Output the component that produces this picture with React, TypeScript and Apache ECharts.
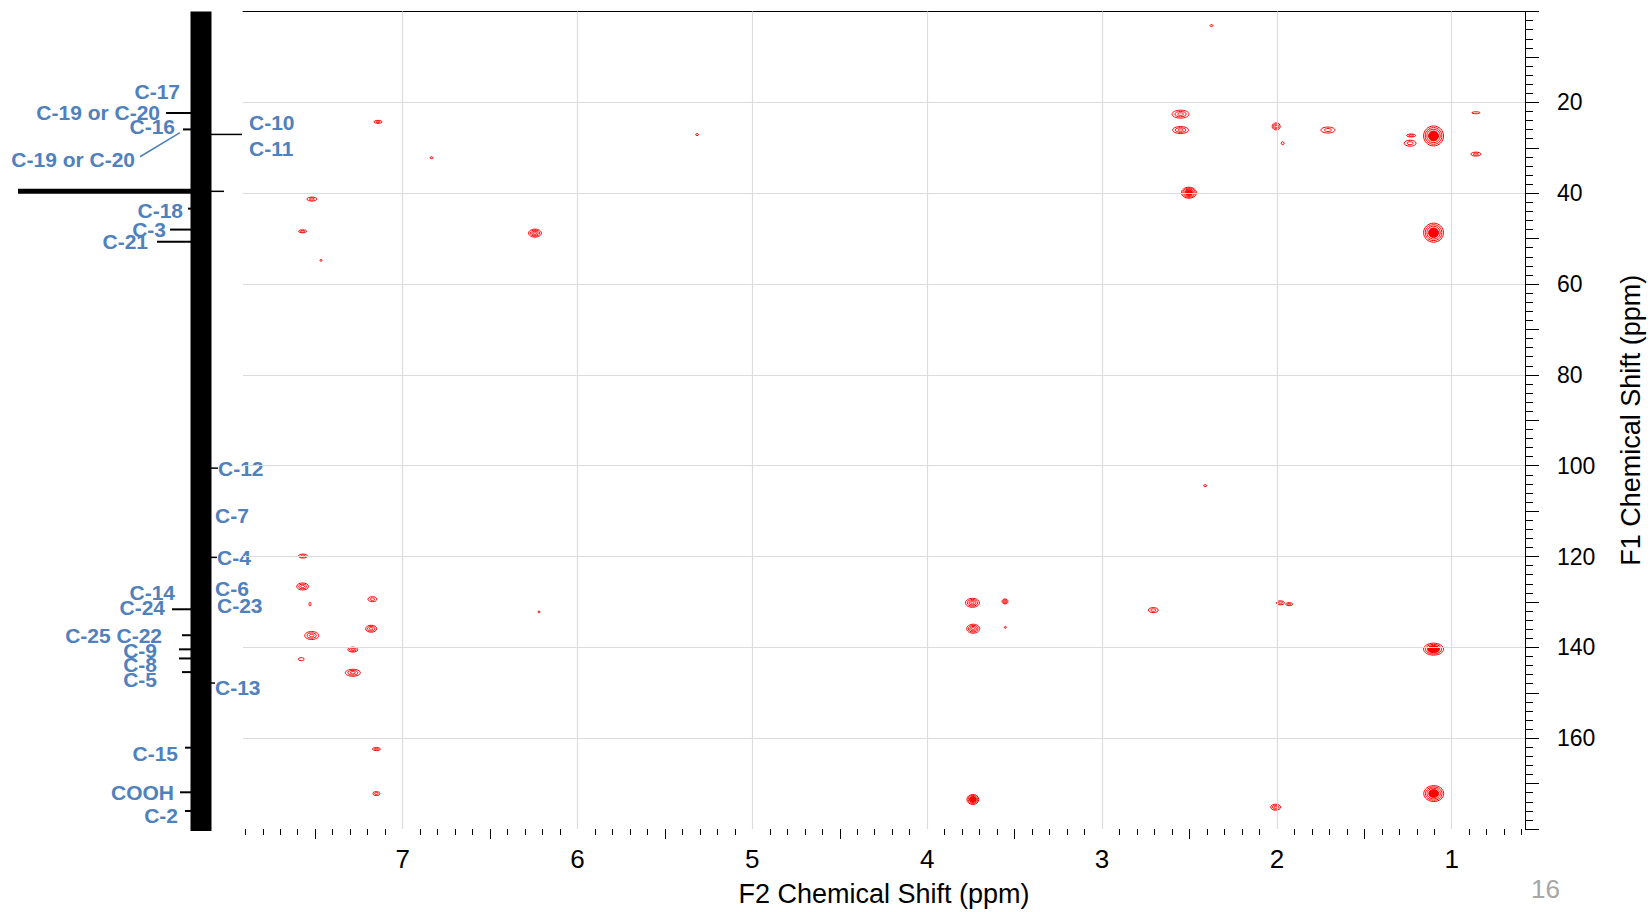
import React, { useEffect, useRef } from "react";
import * as echarts from "echarts";

// ---------- axes ----------
const F2_LABELS = [1, 2, 3, 4, 5, 6, 7];
const F1_LABELS = [20, 40, 60, 80, 100, 120, 140, 160];
const F2_MIN = 0.581;
const F2_MAX = 7.913;
const F1_MIN = 0;
const F1_MAX = 180;

// ---------- HMBC cross peaks ----------
const PEAK_F2 = [
  2.374, 2.551, 2.551, 2.004, 1.967, 1.708, 1.232, 1.238, 1.104, 0.862, 0.862,
  2.503, 1.104, 7.141, 5.316, 6.835, 7.519, 7.572, 6.243, 7.467, 2.41, 7.57,
  7.572, 7.53, 7.173, 6.22, 7.18, 7.52, 7.285, 7.58, 7.285, 7.15, 7.15, 3.741,
  3.555, 3.737, 3.553, 2.707, 1.98, 1.93, 1.104, 3.739, 2.007, 1.103,
];
const PEAK_F1 = [
  3.1, 22.6, 26.1, 25.3, 29.0, 26.1, 27.3, 29.0, 27.4, 22.3, 31.4,
  39.9, 48.7, 24.3, 27.1, 32.2, 41.3, 48.4, 48.8, 54.8, 104.4, 119.9,
  126.6, 130.5, 129.4, 132.2, 135.9, 137.4, 140.5, 142.6, 145.6, 162.4, 172.2, 130.2,
  129.9, 135.9, 135.6, 131.8, 130.2, 130.5, 140.4, 173.5, 175.2, 172.2,
];
const PEAK_W_F2 = [
  0.017, 0.097, 0.091, 0.046, 0.017, 0.08, 0.051, 0.068, 0.114, 0.046, 0.057,
  0.086, 0.114, 0.046, 0.017, 0.017, 0.057, 0.046, 0.074, 0.011, 0.017, 0.051,
  0.068, 0.011, 0.051, 0.011, 0.063, 0.08, 0.057, 0.034, 0.086, 0.046, 0.04, 0.08,
  0.034, 0.074, 0.011, 0.057, 0.046, 0.04, 0.114, 0.068, 0.057, 0.114,
];
const PEAK_W_F1 = [
  0.44, 1.76, 1.54, 1.54, 0.66, 1.32, 0.66, 1.32, 4.4, 0.44, 0.88,
  2.42, 4.2, 0.66, 0.44, 0.44, 0.88, 0.66, 1.76, 0.44, 0.44, 0.88,
  1.54, 0.88, 1.1, 0.44, 1.54, 1.76, 1.1, 0.66, 1.54, 0.66, 0.88, 1.98,
  1.1, 1.98, 0.44, 1.1, 0.88, 0.66, 2.64, 2.2, 1.32, 3.5,
];
const PEAK_LEVELS = [
  1, 3, 3, 3, 1, 2, 2, 2, 6, 1, 2,
  6, 6, 2, 1, 1, 2, 2, 4, 1, 1, 2,
  3, 1, 2, 1, 3, 3, 3, 1, 3, 2, 2, 4,
  3, 4, 1, 2, 2, 2, 5, 5, 3, 6,
];

// ---------- 13C projection (F1) ----------
const C13_SHIFT = [22.3, 25.9, 39.5, 43.3, 47.9, 50.6, 131.3, 137.0, 140.1, 142.1, 145.1, 161.7, 171.5, 175.6];
const C13_HEIGHT = [35, 18, 183, 13, 31, 44, 29, 19, 22, 22, 19, 16, 21, 16];

// ---------- assignments ----------
const ASSIGN_TEXT = [
  "C-17", "C-19 or C-20", "C-16", "C-19 or C-20", "C-10", "C-11", "C-18", "C-3", "C-21",
  "C-12", "C-7", "C-4", "C-6", "C-23", "C-14", "C-24", "C-25 C-22", "C-9", "C-8", "C-5",
  "C-13", "C-15", "COOH", "C-2",
];
const ASSIGN_SHIFT = [
  17.6, 22.1, 25.2, 32.6, 24.3, 30.2, 43.6, 47.8, 50.6,
  100.3, 110.7, 119.9, 126.8, 130.5, 127.7, 130.8, 137.1, 140.4, 143.4, 146.7,
  148.4, 162.9, 171.6, 176.5,
];
const ASSIGN_SIDE = [
  "L", "L", "L", "L", "R", "R", "L", "L", "L",
  "R", "R", "R", "R", "R", "L", "L", "L", "L", "L", "L",
  "R", "L", "L", "L",
];
const ASSIGN_ANCHOR = [
  21, 41, 26, 66, -48, -48, 18, 35, 53,
  -17, -14, -16, -14, -16, 26, 36, 39, 44, 44, 44,
  -14, 23, 27, 23,
];

// leader lines [fromHeight, fromShift, toHeight, toShift]
const LEADER_X1 = [-10, -10, -10, -10, 0, 61];
const LEADER_Y1 = [27.0, 100.3, 119.9, 147.5, 39.5, 31.9];
const LEADER_X2 = [-41, -17, -16, -14, -23, 21];
const LEADER_Y2 = [27.0, 100.3, 119.9, 147.5, 39.5, 26.6];
const LEADER_BLUE = [0, 0, 0, 0, 0, 1];

const FONT = "'Liberation Sans', Arial, sans-serif";
const BLUE = "#4F81BD";
const RED = "#ff0000";

function buildOption() {
  const half = F2_LABELS.map((v) => v + 0.5).filter((v) => v < F2_MAX && v > F2_MIN);
  const minor: number[] = [];
  for (let i = Math.ceil(F2_MIN * 10); i <= Math.floor(F2_MAX * 10); i++) {
    if (i % 5 !== 0) minor.push(i / 10);
  }
  const gridLines = [
    ...F2_LABELS.map((v) => ({ xAxis: v })),
    ...F1_LABELS.map((v) => ({ yAxis: v })),
  ];

  const peakData = PEAK_F2.map((x, i) => [x, PEAK_F1[i], PEAK_W_F2[i], PEAK_W_F1[i], PEAK_LEVELS[i]]);
  const c13Data = C13_SHIFT.map((p, i) => [C13_HEIGHT[i], p]);
  const leaderData = LEADER_X1.map((x, i) => [x, LEADER_Y1[i], LEADER_X2[i], LEADER_Y2[i], LEADER_BLUE[i]]);
  const labelData = ASSIGN_TEXT.map((_, i) => [ASSIGN_ANCHOR[i], ASSIGN_SHIFT[i], i]);

  const baseX = {
    type: "value",
    gridIndex: 0,
    min: F2_MIN,
    max: F2_MAX,
    inverse: true,
    position: "bottom",
    splitLine: { show: false },
  };

  return {
    animation: false,
    backgroundColor: "#fff",
    grid: [
      { left: 243, top: 11.5, width: 1285.4, height: 819.5 },
      { left: 0, top: 11.5, width: 260, height: 819.5 },
    ],
    xAxis: [
      {
        ...baseX,
        axisLine: { show: true, lineStyle: { color: "#000", width: 1 } },
        axisTick: { show: true, customValues: F2_LABELS, length: 15, lineStyle: { color: "#000" } },
        axisLabel: {
          show: true,
          customValues: F2_LABELS,
          margin: 17,
          fontSize: 26,
          color: "#000",
          fontFamily: FONT,
        },
        name: "F2 Chemical Shift (ppm)",
        nameLocation: "middle",
        nameGap: 51,
        nameTextStyle: { fontSize: 27, color: "#000", fontFamily: FONT },
      },
      {
        ...baseX,
        axisLine: { show: false },
        axisTick: { show: true, customValues: half, length: 10, lineStyle: { color: "#000" } },
        axisLabel: { show: false },
      },
      {
        ...baseX,
        axisLine: { show: false },
        axisTick: { show: true, customValues: minor, length: 6, lineStyle: { color: "#000" } },
        axisLabel: { show: false },
      },
      { type: "value", gridIndex: 1, min: -59, max: 201, inverse: true, show: false },
    ],
    yAxis: [
      {
        type: "value",
        gridIndex: 0,
        min: F1_MIN,
        max: F1_MAX,
        interval: 10,
        inverse: true,
        position: "right",
        axisLine: { show: true, lineStyle: { color: "#000", width: 1 } },
        axisTick: { show: true, length: 14, lineStyle: { color: "#000" } },
        minorTick: { show: true, splitNumber: 5, length: 8, lineStyle: { color: "#000" } },
        axisLabel: {
          show: true,
          customValues: F1_LABELS,
          margin: 32,
          fontSize: 23,
          color: "#000",
          fontFamily: FONT,
        },
        splitLine: { show: false },
        minorSplitLine: { show: false },
        name: "F1 Chemical Shift (ppm)",
        nameLocation: "middle",
        nameRotate: 90,
        nameGap: 92,
        nameTextStyle: { fontSize: 27, color: "#000", fontFamily: FONT },
      },
      { type: "value", gridIndex: 1, min: F1_MIN, max: F1_MAX, inverse: true, show: false },
    ],
    series: [
      {
        type: "line",
        xAxisIndex: 0,
        yAxisIndex: 0,
        data: [],
        z: 1,
        silent: true,
        markLine: {
          silent: true,
          symbol: "none",
          label: { show: false },
          lineStyle: { color: "#dcdcdc", type: "solid", width: 1.2 },
          data: gridLines,
        },
      },
      {
        type: "custom",
        xAxisIndex: 0,
        yAxisIndex: 0,
        z: 3,
        silent: true,
        encode: { x: 0, y: 1 },
        data: peakData,
        renderItem: (params: any, api: any) => {
          const c = api.coord([api.value(0), api.value(1)]);
          const s = api.size([api.value(2), api.value(3)]);
          const n = api.value(4);
          const w = Math.abs(s[0]);
          const h = Math.abs(s[1]);
          const children: any[] = [];
          for (let k = n; k >= 1; k--) {
            const f = k / n;
            children.push({
              type: "ellipse",
              shape: { cx: c[0], cy: c[1], rx: Math.max((w * f) / 2, 0.8), ry: Math.max((h * f) / 2, 0.8) },
              style: {
                fill: n >= 5 && k <= Math.ceil(n * 0.5) ? RED : "none",
                stroke: RED,
                lineWidth: 1,
              },
            });
          }
          return { type: "group", children };
        },
      },
      // noise band of 13C projection
      {
        type: "line",
        xAxisIndex: 3,
        yAxisIndex: 1,
        data: [
          [0, F1_MIN],
          [0, F1_MAX],
        ],
        symbol: "none",
        silent: true,
        z: 2,
        lineStyle: { color: "#000", width: 21 },
      },
      // 13C peaks
      {
        type: "custom",
        xAxisIndex: 3,
        yAxisIndex: 1,
        z: 3,
        silent: true,
        encode: { x: 0, y: 1 },
        data: c13Data,
        renderItem: (params: any, api: any) => {
          const hgt = api.value(0);
          const p = api.value(1);
          const a = api.coord([0, p]);
          const b = api.coord([hgt, p]);
          return {
            type: "line",
            shape: { x1: a[0], y1: a[1], x2: b[0], y2: b[1] },
            style: { stroke: "#000", lineWidth: hgt > 100 ? 5 : 2 },
          };
        },
      },
      // leader lines
      {
        type: "custom",
        xAxisIndex: 3,
        yAxisIndex: 1,
        z: 3,
        silent: true,
        encode: { x: [0, 2], y: [1, 3] },
        data: leaderData,
        renderItem: (params: any, api: any) => {
          const a = api.coord([api.value(0), api.value(1)]);
          const b = api.coord([api.value(2), api.value(3)]);
          const blue = api.value(4) === 1;
          return {
            type: "line",
            shape: { x1: a[0], y1: a[1], x2: b[0], y2: b[1] },
            style: { stroke: blue ? BLUE : "#000", lineWidth: 1.5 },
          };
        },
      },
      // assignment labels
      {
        type: "custom",
        xAxisIndex: 3,
        yAxisIndex: 1,
        z: 4,
        silent: true,
        encode: { x: 0, y: 1 },
        data: labelData,
        renderItem: (params: any, api: any) => {
          const i = api.value(2);
          const pt = api.coord([api.value(0), api.value(1)]);
          const align = ASSIGN_SIDE[i] === "L" ? "right" : "left";
          return {
            type: "text",
            x: pt[0],
            y: pt[1],
            style: {
              text: ASSIGN_TEXT[i],
              fill: BLUE,
              fontSize: 21,
              fontWeight: "bold",
              fontFamily: FONT,
              align,
              verticalAlign: "middle",
              textAlign: align,
              textVerticalAlign: "middle",
            },
          };
        },
      },
    ],
    graphic: [
      {
        type: "text",
        left: 1531,
        top: 876,
        style: { text: "16", fill: "#a6a6a6", fontSize: 26, fontFamily: FONT },
      },
    ],
  };
}

export default function App() {
  const ref = useRef<HTMLDivElement>(null);
  useEffect(() => {
    if (!ref.current) return;
    const chart = echarts.init(ref.current, null, { renderer: "svg" });
    chart.setOption(buildOption() as any);
    return () => chart.dispose();
  }, []);
  return (
    <div
      ref={ref}
      style={{ position: "fixed", left: 0, top: 0, width: 1652, height: 912, background: "#fff" }}
    />
  );
}
